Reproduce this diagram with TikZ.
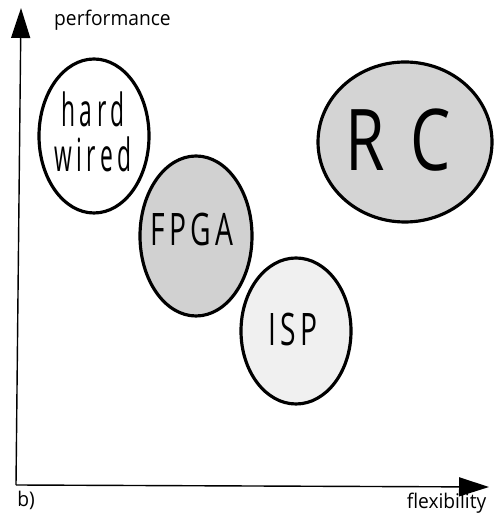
\documentclass[tikz,border=0pt]{standalone}
\usepackage{fontspec}
\usepackage{tikz}
\usetikzlibrary{arrows.meta,positioning,shapes.geometric}
\newfontfamily\axisfont[FakeStretch=0.95]{Open Sans}
\newfontfamily\wordfont[FakeStretch=0.5,LetterSpace=10]{Open Sans}
\newfontfamily\capsfont[FakeStretch=0.63,LetterSpace=10]{Open Sans}
\newfontfamily\bigfont[FakeStretch=0.75]{Open Sans}

\begin{document}
\begin{tikzpicture}[every node/.style={font=\axisfont},
        axis/.style={line width=0.8pt,-{Triangle[length=0.6cm,width=0.38cm]}},
        blob/.style={ellipse,draw,line width=1.8pt,inner sep=0pt},
        axislabel/.style={font=\axisfont\fontsize{11.5}{14}\selectfont}]
                \useasboundingbox (0,0) rectangle (9.86,10.34);
                \coordinate (origin) at (0.32,0.64);
                \coordinate (ytip) at (0.42,10.18);
                \coordinate (xtip) at (9.78,0.60);
                \draw[axis] (origin) -- (ytip);
                \draw[axis] (origin) -- (xtip);
                \node[axislabel] (perf) at (2.25,9.93) {performance};
                \node[axislabel] (flex) at (8.93,0.27) {flexibility};
                \node[axislabel] (tag) at (0.52,0.33) {b)};
                % the four classes
                \node[blob,fill=white,minimum width=2.2cm,minimum height=3.08cm] (hw) at (1.88,7.62) {};
                \node[blob,fill=gray!36,minimum width=2.24cm,minimum height=3.2cm] (fpga) at (3.92,5.62) {};
                \node[blob,fill=gray!12,minimum width=2.2cm,minimum height=2.92cm] (isp) at (5.92,3.72) {};
                \node[blob,fill=gray!34,minimum width=3.48cm,minimum height=3.2cm] (rc) at (8.10,7.50) {};
                % their names
                \node[align=center,font=\wordfont\fontsize{26}{25.6}\selectfont] (hwname) at (1.86,7.70) {hard\\wired};
                \node[font=\capsfont\fontsize{25.5}{28}\selectfont] (fpganame) at (3.84,5.76) {FPGA};
                \node[font=\capsfont\fontsize{25.5}{28}\selectfont] (ispname) at (5.86,3.76) {ISP};
                \node[font=\bigfont\fontsize{48.5}{52}\selectfont] (rcname) at (7.96,7.54) {R\hspace{0.5cm}C};
            \end{tikzpicture}
\end{document}
